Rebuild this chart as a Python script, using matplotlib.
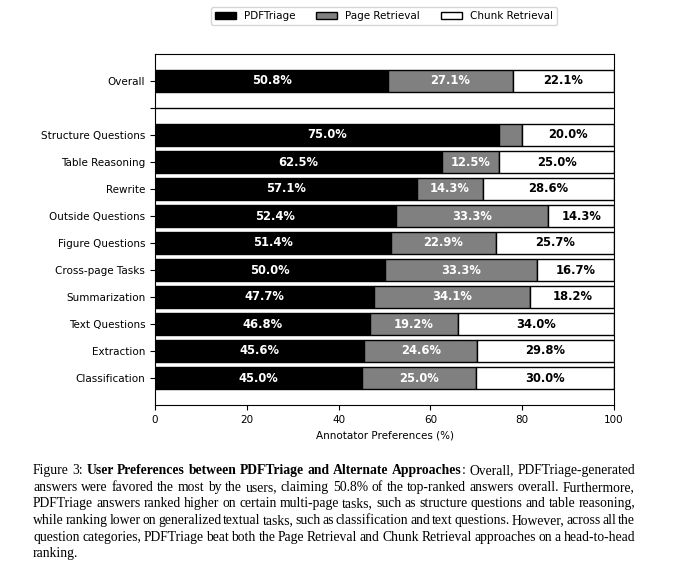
import matplotlib.pyplot as plt
import numpy as np

categories = ['Overall', '', 'Structure Questions', 'Table Reasoning', 'Rewrite',
              'Outside Questions', 'Figure Questions', 'Cross-page Tasks',
              'Summarization', 'Text Questions', 'Extraction', 'Classification']
pdftriage = [50.8, None, 75.0, 62.5, 57.1, 52.4, 51.4, 50.0, 47.7, 46.8, 45.6, 45.0]
page_ret = [27.1, None, 5.0, 12.5, 14.3, 33.3, 22.9, 33.3, 34.1, 19.2, 24.6, 25.0]
chunk_ret = [22.1, None, 20.0, 25.0, 28.6, 14.3, 25.7, 16.7, 18.2, 34.0, 29.8, 30.0]
series_names = ['PDFTriage', 'Page Retrieval', 'Chunk Retrieval']

caption_lines = [
    [("Figure 3: ", 'normal'), ("User Preferences between PDFTriage and Alternate Approaches", 'bold'),
     (": Overall, PDFTriage-generated", 'normal')],
    [("answers were favored the most by the users, claiming 50.8% of the top-ranked answers overall.  Furthermore,", 'normal')],
    [("PDFTriage answers ranked higher on certain multi-page tasks, such as structure questions and table reasoning,", 'normal')],
    [("while ranking lower on generalized textual tasks, such as classification and text questions. However, across all the", 'normal')],
    [("question categories, PDFTriage beat both the Page Retrieval and Chunk Retrieval approaches on a head-to-head", 'normal')],
    [("ranking.", 'normal')],
]

plt.rcParams['font.size'] = 7.5

fig = plt.figure(figsize=(6.81, 5.68), dpi=100)
ax = fig.add_axes([155/681, 1 - 405/568, 459/681, 351/568])

n = len(categories)
ypos = np.arange(n)[::-1]
colors = ['black', 'gray', 'white']
txtcol = ['white', 'white', 'black']

handles = []
for k, vals in enumerate([pdftriage, page_ret, chunk_ret]):
    for i, v in enumerate(vals):
        if v is None:
            continue
        left = sum(s[i] for s in [pdftriage, page_ret, chunk_ret][:k])
        b = ax.barh(ypos[i], v, left=left, height=0.8, color=colors[k],
                    edgecolor='black', linewidth=1)
        if v >= 8:
            ax.text(left + v / 2, ypos[i], '%.1f%%' % v, ha='center', va='center',
                    color=txtcol[k], fontweight='bold', fontsize=8.3)
    handles.append(b)

ax.axhline(ypos[1], color='black', linewidth=1)
ax.set_yticks(ypos)
ax.set_yticklabels(categories)
ax.set_ylim(-1, n)
ax.set_xlim(0, 100)
ax.set_xlabel('Annotator Preferences (%)')

fig.legend(handles, series_names, loc='center', ncol=3,
           bbox_to_anchor=(384/681, 1 - 16/568), fontsize=7.5)

# caption, drawn word by word so lines are justified
renderer = fig.canvas.get_renderer()
x0, x1 = 33 / 681, 635 / 681
for li, line in enumerate(caption_lines):
    y = 1 - (474 + li * 16.7) / 568
    words = []
    for txt, wt in line:
        for w in txt.split():
            words.append((w, wt))
    arts = [fig.text(0, y, w, family='Liberation Serif', fontsize=9.8, fontweight=wt, va='baseline')
            for w, wt in words]
    widths = [a.get_window_extent(renderer).width / fig.bbox.width for a in arts]
    # no gap before a ':' that follows bold text
    joins = [0 if (i > 0 and words[i][0].startswith(':')) else 1 for i in range(len(words))]
    joins[0] = 0
    nsp = sum(joins)
    if li < len(caption_lines) - 1:
        gap = (x1 - x0 - sum(widths)) / nsp
    else:
        gap = 2.6 / 681
    x = x0
    for a, w, j in zip(arts, widths, joins):
        x += gap * j
        a.set_x(x)
        x += w

fig.savefig('out.png', dpi=100)
